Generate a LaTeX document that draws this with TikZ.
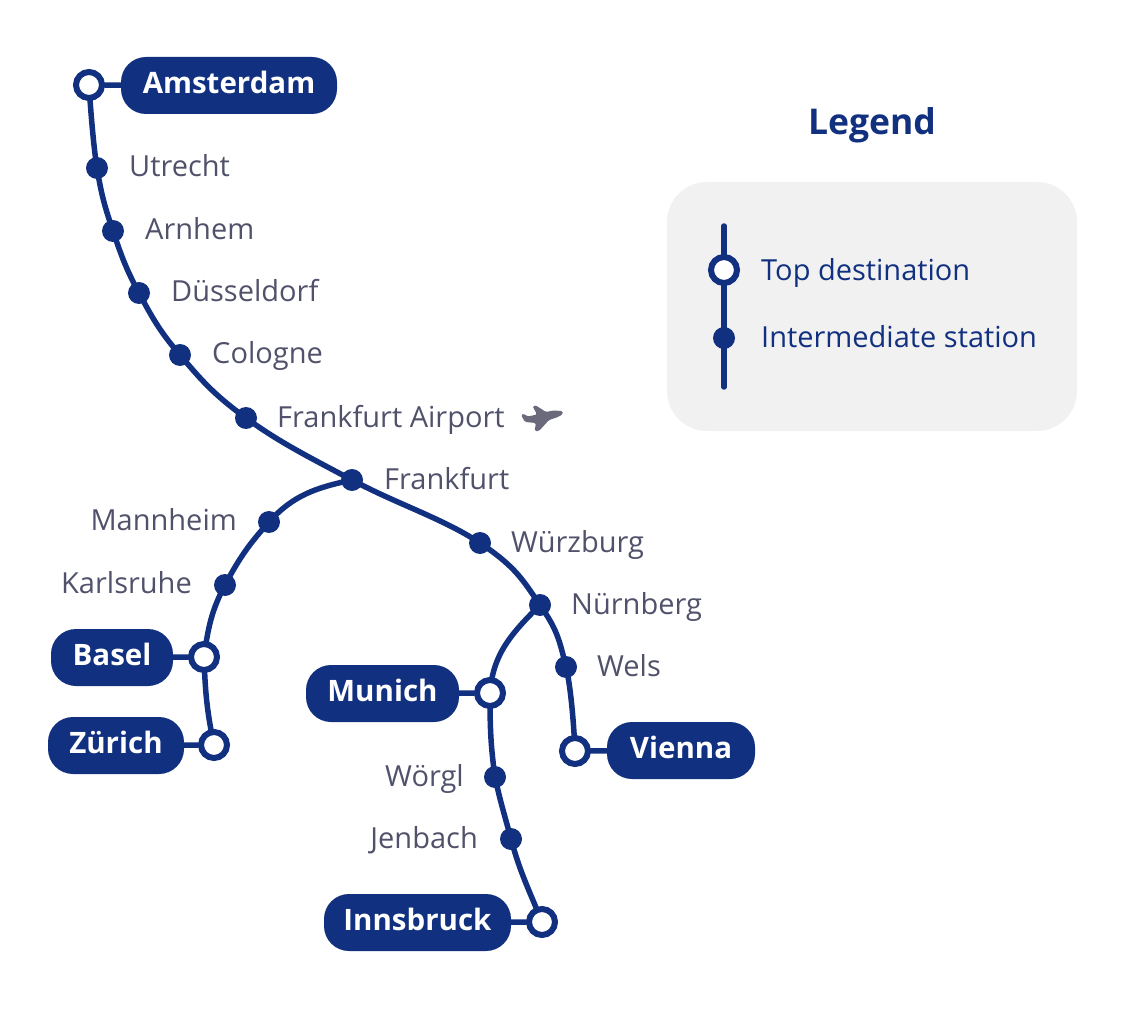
\documentclass[tikz,border=0pt]{standalone}
\usepackage{fontspec}
\setmainfont{Open Sans}
\usepackage{xcolor}
\usetikzlibrary{backgrounds}
\definecolor{railblue}{HTML}{11307F}
\definecolor{labelgray}{HTML}{50516A}
\definecolor{planegray}{HTML}{6A6A7C}
\definecolor{legendgray}{HTML}{F1F1F2}
\tikzset{
  railline/.style={draw=railblue,line width=5.5pt,line cap=round},
  topstop/.style={circle,draw=railblue,fill=white,line width=6pt,minimum size=26pt,inner sep=0pt},
  midstop/.style={circle,fill=railblue,minimum size=22pt,inner sep=0pt},
  citypill/.style={fill=railblue,text=white,rounded corners=25pt,minimum height=57pt,minimum width=#1,inner sep=0pt,text height=21pt,text depth=5pt,font=\fontsize{29.5}{30}\selectfont\bfseries},
  stoplabel/.style={text=labelgray,inner sep=0pt,font=\fontsize{29}{30}\selectfont},
  legendlabel/.style={text=railblue,inner sep=0pt,anchor=base west,font=\fontsize{29}{30}\selectfont}
}
\begin{document}
\begin{tikzpicture}[x=1pt,y=-1pt]
  \useasboundingbox (0,0) rectangle (1125,1016);
  % main line
  \node[topstop] (amsterdam) at (89,85) {};
  \node[midstop] (utrecht) at (97,168) {};
  \node[midstop] (arnhem) at (113,231) {};
  \node[midstop] (duesseldorf) at (139,293) {};
  \node[midstop] (cologne) at (180,355) {};
  \node[midstop] (airport) at (246,418) {};
  \node[midstop] (frankfurt) at (352,480) {};
  \node[midstop] (wuerzburg) at (480,543) {};
  \node[midstop] (nuernberg) at (540,605) {};
  \node[midstop] (wels) at (566,667) {};
  \node[topstop] (vienna) at (575,751) {};
  % west branch
  \node[midstop] (mannheim) at (269,522) {};
  \node[midstop] (karlsruhe) at (225,585) {};
  \node[topstop] (basel) at (204,657) {};
  \node[topstop] (zuerich) at (214,745) {};
  % south branch
  \node[topstop] (munich) at (490,693) {};
  \node[midstop] (woergl) at (495,777) {};
  \node[midstop] (jenbach) at (511,839) {};
  \node[topstop] (innsbruck) at (542,922) {};
  % city names
  \node[citypill=216pt] (amsterdamname) at (229,85.5) {Amsterdam};
  \node[citypill=122pt] (baselname) at (112,657.5) {Basel};
  \node[citypill=136pt] (zuerichname) at (116,745.5) {Zürich};
  \node[citypill=153pt] (munichname) at (382.5,693.5) {Munich};
  \node[citypill=148pt] (viennaname) at (681,750.5) {Vienna};
  \node[citypill=187pt] (innsbruckname) at (417.5,922.5) {Innsbruck};
  % stop names
  \node[stoplabel,anchor=base west] (utrechtname) at (129,177) {Utrecht};
  \node[stoplabel,anchor=base west] (arnhemname) at (145,240) {Arnhem};
  \node[stoplabel,anchor=base west] (duesseldorfname) at (171,302) {Düsseldorf};
  \node[stoplabel,anchor=base west] (colognename) at (212,364) {Cologne};
  \node[stoplabel,anchor=base west] (airportname) at (277,427) {Frankfurt Airport};
  \node[stoplabel,anchor=base west] (frankfurtname) at (384,489) {Frankfurt};
  \node[stoplabel,anchor=base west] (wuerzburgname) at (511,552) {Würzburg};
  \node[stoplabel,anchor=base west] (nuernbergname) at (571,614) {Nürnberg};
  \node[stoplabel,anchor=base west] (welsname) at (597,676) {Wels};
  \node[stoplabel,anchor=base east] (mannheimname) at (237,530) {Mannheim};
  \node[stoplabel,anchor=base east] (karlsruhename) at (192,593) {Karlsruhe};
  \node[stoplabel,anchor=base east] (woerglname) at (464,786) {Wörgl};
  \node[stoplabel,anchor=base east] (jenbachname) at (478,848) {Jenbach};
  \fill[planegray,rounded corners=1.5pt] (562.5,411) -- (553,410.5) -- (546,412) -- (536,405.5) -- (532.5,406) -- (537,414.5) -- (528,416.5) -- (523,413.5) -- (521,415) -- (525,422) -- (536,423) -- (534.5,431) -- (539,431) -- (549,420) -- (558,417) -- (563,414) -- cycle;
  % legend
  \node[text=railblue,inner sep=0pt,anchor=base,font=\fontsize{35.5}{36}\selectfont\bfseries] (legendtitle) at (872,135) {Legend};
  \coordinate (legendtop) at (724,226);
  \coordinate (legendend) at (724,387);
  \node[topstop] (legendopen) at (724,270) {};
  \node[midstop] (legenddot) at (724,338) {};
  \node[legendlabel] (legendopenname) at (761,281) {Top destination};
  \node[legendlabel] (legenddotname) at (761,348) {Intermediate station};
  \begin{scope}[on background layer]
    \fill[legendgray,rounded corners=40pt] (667,182) rectangle (1077,431);
    \draw[railline] (legendtop) -- (legendend);
    \draw[railline] plot[smooth,tension=0.7] coordinates {(amsterdam.center) (utrecht.center) (arnhem.center) (duesseldorf.center) (cologne.center) (airport.center) (frankfurt.center) (wuerzburg.center) (nuernberg.center) (wels.center) (vienna.center)};
    \draw[railline] (frankfurt.center) to[out=192,in=48] (mannheim.center) to[out=228,in=62] (karlsruhe.center) to[out=242,in=82] (basel.center) to[out=-88,in=102] (zuerich.center);
    \draw[railline] (nuernberg.center) to[out=225,in=86] (munich.center) to[out=-90,in=98] (woergl.center) to[out=-78,in=105] (jenbach.center) to[out=-75,in=112] (innsbruck.center);
    \draw[railline] (amsterdam) -- (amsterdamname);
    \draw[railline] (basel) -- (baselname);
    \draw[railline] (zuerich) -- (zuerichname);
    \draw[railline] (munich) -- (munichname);
    \draw[railline] (vienna) -- (viennaname);
    \draw[railline] (innsbruck) -- (innsbruckname);
  \end{scope}
\end{tikzpicture}
\end{document}
